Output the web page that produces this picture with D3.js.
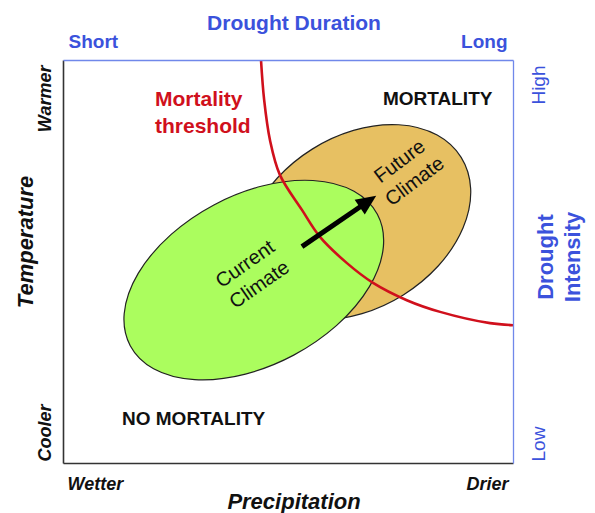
<!DOCTYPE html>
<html>
<head>
<meta charset="utf-8">
<script src="https://cdn.jsdelivr.net/npm/d3@7"></script>
<style>
  body { margin: 0; background: #fff; }
  svg { font-family: "Liberation Sans", Arial, sans-serif; }
</style>
</head>
<body>
<div id="chart"></div>
<script>
// values, in a 0-100 precipitation / temperature space
const precipLabels = ["Wetter", "Drier"];
const tempLabels = ["Cooler", "Warmer"];
const durationLabels = ["Short", "Long"];
const intensityLabels = ["Low", "High"];

// climate envelopes: centre (precip, temp), half axes (in precip units), tilt in degrees
const climateNames = [["Future", "Climate"], ["Current", "Climate"]];
const climateCentres = [[65.5, 59.8], [42.4, 45.4]];
const climateAxes = [[27.1, 19.1], [31.1, 18.9]];
const climateTilt = [32, 28];

// mortality threshold
const thresholdPts = [
  [44.0, 100], [44.7, 90.1], [46.0, 80.1], [48.2, 71.5], [53.1, 62.8],
  [57.1, 56.1], [63.1, 49.6], [68.9, 44.7], [76.4, 40.4], [83.8, 37.5],
  [94.9, 34.7], [100, 34.2]
];

// shift from current to future climate
const shiftPts = [[53.1, 53.7], [69.6, 66.3]];

const width = 595, height = 513;
const blue = "#3b52dc", red = "#d0101c";

const svg = d3.select("#chart").append("svg")
  .attr("width", width)
  .attr("height", height);

const x = d3.scaleLinear().domain([0, 100]).range([63, 513]);
const y = d3.scaleLinear().domain([0, 100]).range([463, 60]);

// ellipses (future first so current sits on top)
const fills = ["#e7c062", "#abfd5e"];
const climates = climateNames.map((n, i) => ({
  name: n, c: climateCentres[i], ax: climateAxes[i], tilt: climateTilt[i], fill: fills[i]
}));

svg.append("g")
  .selectAll("ellipse")
  .data(climates)
  .join("ellipse")
  .attr("cx", d => x(d.c[0]))
  .attr("cy", d => y(d.c[1]))
  .attr("rx", d => x(d.ax[0]) - x(0))
  .attr("ry", d => x(d.ax[1]) - x(0))
  .attr("transform", d => `rotate(${-d.tilt},${x(d.c[0])},${y(d.c[1])})`)
  .attr("fill", d => d.fill)
  .attr("stroke", "#222")
  .attr("stroke-width", 1.2);

// threshold curve
svg.append("path")
  .datum(thresholdPts)
  .attr("fill", "none")
  .attr("stroke", red)
  .attr("stroke-width", 2.6)
  .attr("d", d3.line().x(d => x(d[0])).y(d => y(d[1])).curve(d3.curveCatmullRom));

// arrow
const [p0, p1] = shiftPts.map(d => [x(d[0]), y(d[1])]);
const ang = Math.atan2(p1[1] - p0[1], p1[0] - p0[0]);
const headLen = 20, headW = 9;
const base = [p1[0] - headLen * Math.cos(ang), p1[1] - headLen * Math.sin(ang)];
svg.append("line")
  .attr("x1", p0[0]).attr("y1", p0[1])
  .attr("x2", base[0] + 2 * Math.cos(ang)).attr("y2", base[1] + 2 * Math.sin(ang))
  .attr("stroke", "#000")
  .attr("stroke-width", 5);
svg.append("path")
  .attr("d", d3.line()([
    p1,
    [base[0] + headW * Math.sin(ang), base[1] - headW * Math.cos(ang)],
    [base[0] - headW * Math.sin(ang), base[1] + headW * Math.cos(ang)]
  ]) + "Z")
  .attr("fill", "#000");

// climate labels
const labelOffsets = [[50, -50], [-1, -5]];
const labelAngles = [37, 35];
svg.append("g")
  .selectAll("text")
  .data(climates)
  .join("text")
  .attr("transform", (d, i) =>
    `translate(${x(d.c[0]) + labelOffsets[i][0]},${y(d.c[1]) + labelOffsets[i][1]}) rotate(${-labelAngles[i]})`)
  .attr("text-anchor", "middle")
  .attr("font-size", 20)
  .attr("fill", "#111")
  .selectAll("tspan")
  .data(d => d.name)
  .join("tspan")
  .attr("x", 0)
  .attr("y", (d, i) => i === 0 ? -7 : 18)
  .text(d => d);

// axes around the box
const bottomAxis = svg.append("g")
  .attr("transform", `translate(0,${y(0)})`)
  .call(d3.axisBottom(x).tickValues([0, 100]).tickFormat((d, i) => precipLabels[i]).tickSize(0).tickSizeOuter(0));
const leftAxis = svg.append("g")
  .attr("transform", `translate(${x(0)},0)`)
  .call(d3.axisLeft(y).tickValues([0, 100]).tickFormat((d, i) => tempLabels[i]).tickSize(0).tickSizeOuter(0));
const topAxis = svg.append("g")
  .attr("transform", `translate(0,${y(100)})`)
  .call(d3.axisTop(x).tickValues([0, 100]).tickFormat((d, i) => durationLabels[i]).tickSize(0).tickSizeOuter(0));
const rightAxis = svg.append("g")
  .attr("transform", `translate(${x(100)},0)`)
  .call(d3.axisRight(y).tickValues([0, 100]).tickFormat((d, i) => intensityLabels[i]).tickSize(0).tickSizeOuter(0));

bottomAxis.select(".domain").attr("stroke", "#333").attr("stroke-width", 1.6);
leftAxis.select(".domain").attr("stroke", "#333").attr("stroke-width", 1.6);
topAxis.select(".domain").attr("stroke", "#7088ea").attr("stroke-width", 1.3);
rightAxis.select(".domain").attr("stroke", "#7088ea").attr("stroke-width", 1.3);

bottomAxis.selectAll(".tick text")
  .attr("font-size", 18).attr("font-weight", "bold").attr("font-style", "italic")
  .attr("fill", "#111")
  .attr("dy", null).attr("y", 27)
  .attr("text-anchor", (d, i) => i === 0 ? "start" : "end")
  .attr("dx", (d, i) => i === 0 ? 4 : -5);

leftAxis.selectAll(".tick text")
  .attr("font-size", 18).attr("font-weight", "bold").attr("font-style", "italic")
  .attr("fill", "#111")
  .attr("dy", null).attr("y", 0)
  .attr("x", (d, i) => i === 0 ? 2 : -5)
  .attr("transform", "translate(-12,0) rotate(-90)")
  .attr("text-anchor", (d, i) => i === 0 ? "start" : "end");

topAxis.selectAll(".tick text")
  .attr("font-size", 19).attr("font-weight", "bold")
  .attr("fill", blue)
  .attr("dy", null).attr("y", -12)
  .attr("text-anchor", (d, i) => i === 0 ? "start" : "end")
  .attr("dx", (d, i) => i === 0 ? 5 : -6);

rightAxis.selectAll(".tick text")
  .attr("font-size", 19)
  .attr("fill", blue)
  .attr("dy", null).attr("y", 0)
  .attr("x", (d, i) => i === 0 ? 2 : -5)
  .attr("transform", "translate(32,0) rotate(-90)")
  .attr("text-anchor", (d, i) => i === 0 ? "start" : "end");

svg.selectAll(".tick text").attr("font-family", null);

// axis titles
svg.append("text")
  .attr("x", 294).attr("y", 30)
  .attr("text-anchor", "middle")
  .attr("font-size", 21).attr("font-weight", "bold")
  .attr("fill", blue)
  .text("Drought Duration");

svg.append("text")
  .attr("x", 294).attr("y", 509)
  .attr("text-anchor", "middle")
  .attr("font-size", 22).attr("font-weight", "bold").attr("font-style", "italic")
  .attr("fill", "#111")
  .text("Precipitation");

svg.append("text")
  .attr("transform", "translate(33,242) rotate(-90)")
  .attr("text-anchor", "middle")
  .attr("font-size", 22).attr("font-weight", "bold").attr("font-style", "italic")
  .attr("fill", "#111")
  .text("Temperature");

svg.append("text")
  .attr("transform", "translate(553,257) rotate(-90)")
  .attr("text-anchor", "middle")
  .attr("font-size", 22).attr("font-weight", "bold")
  .attr("fill", blue)
  .selectAll("tspan")
  .data(["Drought", "Intensity"])
  .join("tspan")
  .attr("x", 0)
  .attr("y", (d, i) => i * 27)
  .text(d => d);

// region labels
svg.append("text")
  .attr("x", 383).attr("y", 105)
  .attr("font-size", 19).attr("font-weight", "bold")
  .attr("fill", "#111")
  .text("MORTALITY");

svg.append("text")
  .attr("x", 122).attr("y", 425)
  .attr("font-size", 19).attr("font-weight", "bold")
  .attr("fill", "#111")
  .text("NO MORTALITY");

svg.append("text")
  .attr("font-size", 21).attr("font-weight", "bold")
  .attr("fill", red)
  .selectAll("tspan")
  .data(["Mortality", "threshold"])
  .join("tspan")
  .attr("x", 155)
  .attr("y", (d, i) => 106 + i * 27)
  .text(d => d);
</script>
</body>
</html>
